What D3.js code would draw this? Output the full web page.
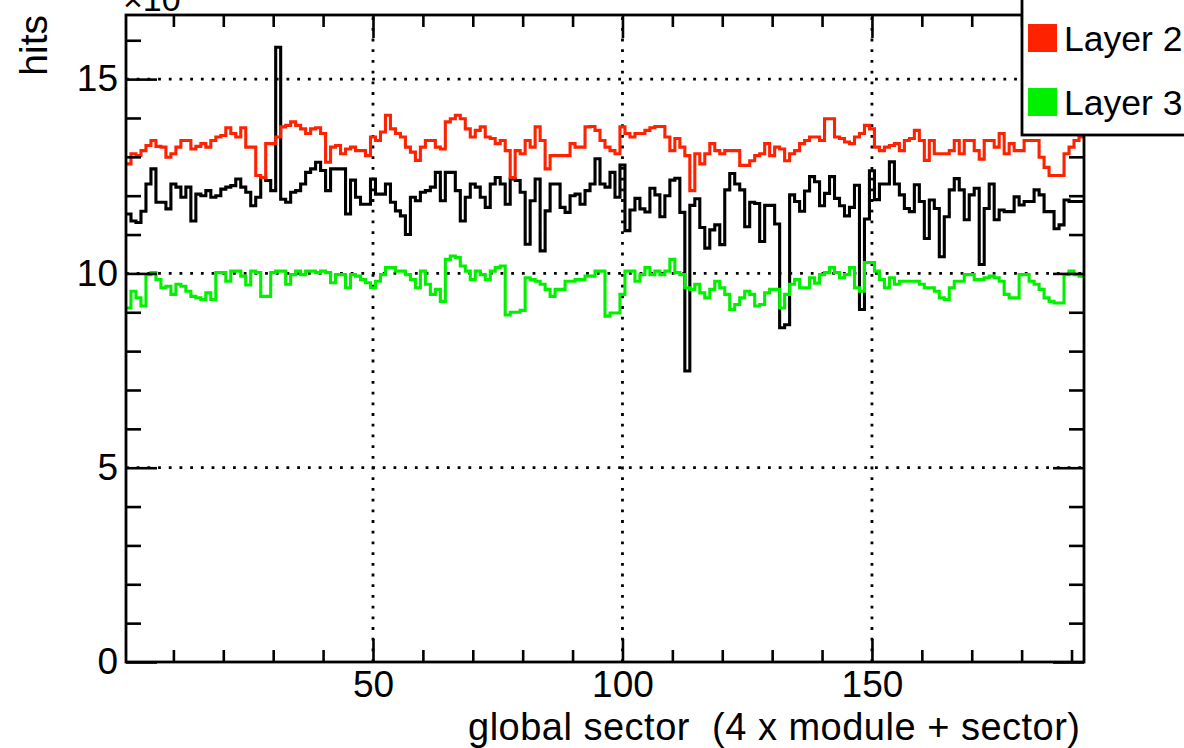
<!DOCTYPE html>
<html>
<head>
<meta charset="utf-8">
<script src="https://cdn.jsdelivr.net/npm/d3@7/dist/d3.min.js"></script>
<style>
  html, body { margin: 0; padding: 0; background: #ffffff; }
  svg { display: block; }
  text { font-family: "Liberation Sans", Arial, Helvetica, sans-serif; fill: #000; }
</style>
</head>
<body>
<svg id="chart" width="1184" height="748"></svg>
<script>
// ---------------- data ----------------
const sectors = d3.range(1, 193); // global sector index (bin centres)

const layer1 = [
  11.53,11.35,11.31,11.6,12.3,12.69,11.83,11.83,11.66,12.3,
  12.22,11.96,12.22,11.35,12.04,12.0,12.13,11.96,12.0,12.17,
  12.22,12.26,12.43,12.22,12.09,11.74,11.96,12.47,12.39,12.13,
  15.82,11.91,11.83,12.09,12.13,12.3,12.6,12.69,12.86,12.65,
  12.13,12.69,12.69,12.69,11.53,12.4,11.96,11.78,11.78,12.43,
  12.04,12.04,12.3,11.83,11.61,11.48,11.0,11.96,11.87,12.09,
  12.13,12.22,12.6,11.87,12.6,12.6,12.13,11.35,11.96,12.3,
  12.22,11.96,11.7,12.3,12.47,12.3,11.78,12.43,12.39,12.09,
  10.75,11.87,12.43,10.58,11.61,12.3,12.3,11.7,11.57,12.0,
  12.04,11.78,12.13,12.3,12.95,12.3,12.22,12.6,11.96,12.79,
  11.1,11.63,11.93,11.66,11.58,12.19,12.02,11.46,12.0,12.4,
  12.45,11.57,7.49,11.75,11.92,11.18,10.65,11.12,11.25,10.74,
  12.15,12.57,12.3,12.15,11.2,11.83,11.8,10.82,11.75,11.75,
  11.27,8.6,8.68,12.02,11.85,11.6,12.12,12.49,12.36,11.74,
  12.06,12.49,11.93,11.74,11.48,11.7,12.27,9.07,11.4,12.64,
  11.9,12.3,12.3,12.87,12.3,12.02,11.67,11.59,12.28,11.85,
  10.9,11.89,11.67,10.43,11.46,12.15,12.44,12.15,11.38,12.02,
  12.19,10.23,11.67,12.3,11.38,11.63,11.59,11.59,11.97,11.76,
  11.85,11.85,12.15,12.02,11.59,11.59,11.15,11.25,11.89,11.85,
  11.85,11.85
];

const layer2 = [
  12.82,13.08,13.03,13.16,13.29,13.42,13.27,13.25,12.99,13.08,
  13.25,13.42,13.42,13.2,13.27,13.34,13.25,13.42,13.51,13.55,
  13.75,13.6,13.51,13.75,13.25,13.25,12.52,12.47,13.34,13.34,
  13.51,13.77,13.81,13.9,13.81,13.72,13.6,13.72,13.75,13.6,
  12.86,13.25,13.29,13.08,13.2,13.25,13.16,13.16,13.03,13.51,
  13.42,13.64,14.07,13.72,13.6,13.51,13.25,13.12,12.91,13.25,
  13.42,13.42,13.25,13.2,13.9,13.98,14.07,13.98,13.72,13.51,
  13.68,13.77,13.51,13.47,13.34,13.42,13.16,12.47,13.16,13.08,
  13.42,13.25,13.77,13.42,12.69,13.03,13.03,13.03,13.03,13.34,
  13.25,13.25,13.77,13.78,13.68,13.42,13.25,13.16,13.08,13.77,
  13.6,13.51,13.6,13.6,13.68,13.75,13.78,13.78,13.51,13.16,
  13.47,13.25,13.03,12.13,13.08,12.82,13.08,13.34,13.16,13.08,
  13.16,13.16,13.16,12.78,12.78,12.9,13.03,13.08,13.34,13.03,
  13.25,13.2,12.9,13.08,13.16,13.34,13.42,13.51,13.51,13.42,
  13.98,13.98,13.51,13.47,13.38,13.34,13.51,13.6,13.81,13.72,
  13.25,13.16,13.25,13.29,13.34,13.16,13.42,13.47,13.68,13.42,
  12.91,13.42,13.08,13.08,13.08,13.16,13.42,13.08,13.42,13.42,
  13.16,12.94,13.42,13.42,13.25,13.6,13.08,13.34,13.16,13.16,
  13.42,13.42,13.42,12.99,12.73,12.52,12.52,12.52,13.08,13.25,
  13.42,13.51
];

const layer3 = [
  9.11,9.54,9.37,9.16,9.97,10.02,9.84,9.63,9.67,9.46,
  9.72,9.67,9.54,9.41,9.37,9.33,9.5,9.33,10.02,10.02,
  9.8,10.06,10.06,9.93,9.7,10.06,10.02,9.41,9.41,10.02,
  10.06,10.06,9.72,9.97,10.06,9.97,10.06,10.06,10.02,10.06,
  10.02,9.76,9.97,9.97,9.63,9.97,9.93,9.84,9.76,9.63,
  9.8,9.97,10.15,10.15,10.06,10.06,9.97,9.84,9.63,10.06,
  9.72,9.46,9.59,9.28,10.36,10.45,10.41,10.19,10.06,9.84,
  10.06,9.97,9.84,10.06,10.15,10.19,8.93,9.0,9.0,9.05,
  9.89,9.84,9.8,9.72,9.59,9.41,9.59,9.59,9.8,9.8,
  9.84,9.84,9.93,9.93,10.06,10.06,8.9,8.98,8.98,9.46,
  10.06,10.06,9.8,9.97,10.15,9.97,10.06,9.97,10.06,10.36,
  10.02,9.97,9.63,9.59,9.72,9.5,9.37,9.59,9.8,9.63,
  9.46,9.07,9.2,9.37,9.54,9.46,9.16,9.2,9.5,9.59,
  9.59,9.11,9.46,9.72,9.84,9.63,9.63,9.89,9.75,9.97,
  10.02,10.15,10.02,9.89,9.97,10.15,9.63,9.54,10.28,10.28,
  10.06,9.84,9.63,9.89,9.72,9.8,9.8,9.8,9.8,9.72,
  9.63,9.63,9.54,9.37,9.33,9.63,9.8,9.8,9.97,9.97,
  9.84,9.84,9.89,9.93,9.89,9.8,9.46,9.37,9.37,9.97,
  9.97,9.8,9.72,9.59,9.37,9.28,9.24,9.24,9.97,10.06,
  9.97,9.93
];

const seriesNames = ["Layer 1", "Layer 2", "Layer 3"];
const seriesColors = ["#000000", "#ff2200", "#00f000"];

const xMajorTicks = [50, 100, 150];
const xMinorTicks = [10, 20, 30, 40, 60, 70, 80, 90, 110, 120, 130, 140, 160, 170, 180, 190];
const yMajorTicks = [0, 5, 10, 15];
const yMinorTicks = [1, 2, 3, 4, 6, 7, 8, 9, 11, 12, 13, 14, 16];

const xTitle = "global sector  (4 x module + sector)";
const yTitle = "hits";
const exponentLabel = "\u00d710";
const exponentPower = "3";

// ---------------- layout ----------------
const W = 1184, H = 748;
const frame = { left: 126, right: 1084, top: 15, bottom: 662 };
const FS = 37;
const TFS = 38;

const svg = d3.select("#chart");
svg.append("rect").attr("width", W).attr("height", H).attr("fill", "#ffffff");

const x = d3.scaleLinear().domain([0.5, 192.5]).range([frame.left, frame.right]);
const y = d3.scaleLinear().domain([0, 16.65]).range([frame.bottom, frame.top]);

svg.append("defs").append("clipPath").attr("id", "plotclip")
  .append("rect")
  .attr("x", frame.left).attr("y", frame.top)
  .attr("width", frame.right - frame.left).attr("height", frame.bottom - frame.top);

// ---------------- grid ----------------
const grid = svg.append("g").attr("stroke", "#000").attr("stroke-width", 2.8)
  .attr("stroke-dasharray", "2.8 7.9").attr("fill", "none");
xMajorTicks.forEach(t => {
  grid.append("line").attr("x1", x(t)).attr("x2", x(t))
    .attr("y1", frame.bottom).attr("y2", frame.top);
});
yMajorTicks.filter(t => t > 0).forEach(t => {
  grid.append("line").attr("x1", frame.left).attr("x2", frame.right)
    .attr("y1", y(t)).attr("y2", y(t));
});

// ---------------- histograms ----------------
const stepLine = d3.line()
  .x(d => x(d[0]))
  .y(d => y(d[1]))
  .curve(d3.curveStepAfter);

function histPoints(vals) {
  const pts = vals.map((v, i) => [sectors[i] - 0.5, v]);
  pts.push([sectors[sectors.length - 1] + 0.5, vals[vals.length - 1]]);
  return pts;
}

const plot = svg.append("g").attr("clip-path", "url(#plotclip)");
[layer1, layer2, layer3].forEach((vals, i) => {
  plot.append("path")
    .attr("d", stepLine(histPoints(vals)))
    .attr("fill", "none")
    .attr("stroke", seriesColors[i])
    .attr("stroke-width", 3.1)
    .attr("stroke-linejoin", "miter");
});

// ---------------- axes (ROOT style, inward ticks) ----------------
function styleAxis(g) {
  g.select(".domain").remove();
  g.selectAll(".tick line").attr("stroke", "#000").attr("stroke-width", 2.6);
  g.selectAll(".tick text").style("font-size", FS + "px")
    .style("font-family", '"Liberation Sans", Arial, sans-serif').attr("fill", "#000");
}

// bottom
svg.append("g").attr("transform", `translate(0,${frame.bottom})`)
  .call(d3.axisBottom(x).tickValues(xMinorTicks).tickSize(-12).tickFormat(""))
  .call(styleAxis);
svg.append("g").attr("transform", `translate(0,${frame.bottom})`)
  .call(d3.axisBottom(x).tickValues(xMajorTicks).tickSize(-23).tickPadding(8.5).tickFormat(d3.format("d")))
  .call(styleAxis);
// top
svg.append("g").attr("transform", `translate(0,${frame.top})`)
  .call(d3.axisTop(x).tickValues(xMinorTicks).tickSize(-12).tickFormat(""))
  .call(styleAxis);
svg.append("g").attr("transform", `translate(0,${frame.top})`)
  .call(d3.axisTop(x).tickValues(xMajorTicks).tickSize(-23).tickFormat(""))
  .call(styleAxis);
// left
svg.append("g").attr("transform", `translate(${frame.left},0)`)
  .call(d3.axisLeft(y).tickValues(yMinorTicks).tickSize(-15).tickFormat(""))
  .call(styleAxis);
svg.append("g").attr("transform", `translate(${frame.left},0)`)
  .call(d3.axisLeft(y).tickValues(yMajorTicks).tickSize(-31).tickPadding(8).tickFormat(d3.format("d")))
  .call(styleAxis);
// right
svg.append("g").attr("transform", `translate(${frame.right},0)`)
  .call(d3.axisRight(y).tickValues(yMinorTicks).tickSize(-15).tickFormat(""))
  .call(styleAxis);
svg.append("g").attr("transform", `translate(${frame.right},0)`)
  .call(d3.axisRight(y).tickValues(yMajorTicks).tickSize(-31).tickFormat(""))
  .call(styleAxis);

// frame
svg.append("rect")
  .attr("x", frame.left).attr("y", frame.top)
  .attr("width", frame.right - frame.left).attr("height", frame.bottom - frame.top)
  .attr("fill", "none").attr("stroke", "#000").attr("stroke-width", 2.8);

// ---------------- titles ----------------
svg.append("text")
  .attr("x", 1080).attr("y", 739.5)
  .attr("text-anchor", "end")
  .attr("textLength", 612)
  .attr("lengthAdjust", "spacing")
  .style("font-size", TFS + "px")
  .style("white-space", "pre")
  .text(xTitle);

svg.append("text")
  .attr("transform", `translate(47,${frame.top}) rotate(-90)`)
  .attr("text-anchor", "end")
  .style("font-size", "39px")
  .text(yTitle);

const expo = svg.append("text")
  .attr("x", 123).attr("y", 11)
  .style("font-size", "34px");
expo.append("tspan").text(exponentLabel);
expo.append("tspan").attr("dy", -14).style("font-size", "24px").text(exponentPower);

// ---------------- legend ----------------
const legend = svg.append("g");
legend.append("rect")
  .attr("x", 1022).attr("y", -70)
  .attr("width", 200).attr("height", 205)
  .attr("fill", "#ffffff").attr("stroke", "#000").attr("stroke-width", 2.8);

const legendRows = [
  { name: seriesNames[1], color: seriesColors[1], cy: 38 },
  { name: seriesNames[2], color: seriesColors[2], cy: 102 }
];
legendRows.forEach(r => {
  legend.append("rect")
    .attr("x", 1028).attr("y", r.cy - 14)
    .attr("width", 29).attr("height", 28)
    .attr("fill", r.color);
  legend.append("text")
    .attr("x", 1064).attr("y", r.cy + 13)
    .style("font-size", "35.5px")
    .text(r.name);
});
</script>
</body>
</html>
